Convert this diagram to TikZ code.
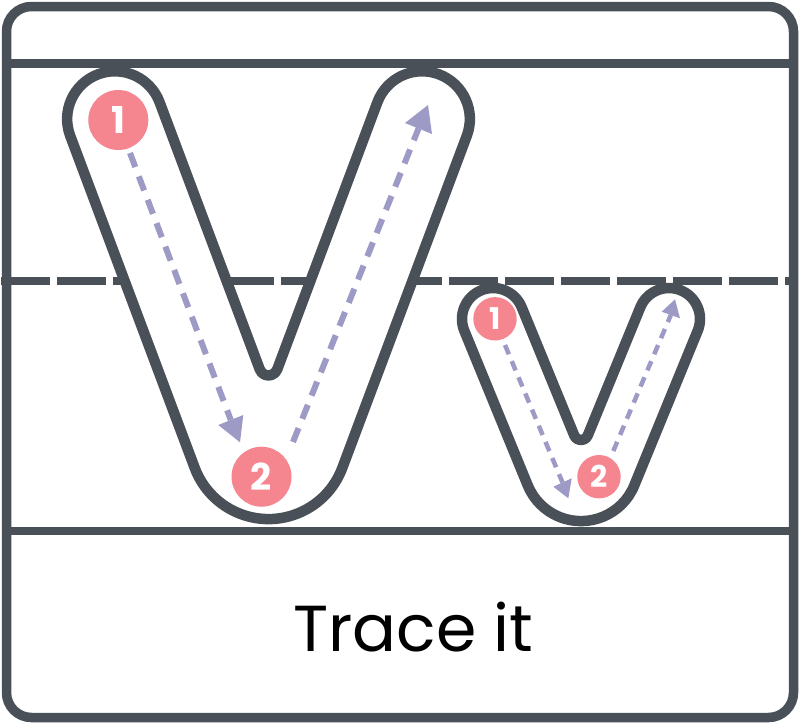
\documentclass[tikz,border=0pt]{standalone}
\usepackage{fontspec}
\setmainfont{Poppins}
\usetikzlibrary{calc}
\definecolor{ink}{HTML}{495057}
\definecolor{pinkc}{HTML}{F5858E}
\definecolor{trc}{HTML}{9D9BC5}
\begin{document}
\begin{tikzpicture}[x=1pt,y=-1pt,
  frameline/.style={draw=ink,line width=8.5pt},
  letter/.style={draw=ink,fill=white,line width=10.5pt,line join=round},
  bignum/.style={circle,fill=pinkc,minimum size=60pt,inner sep=0pt,text=white,font=\fontsize{37}{37}\selectfont\bfseries},
  smallnum/.style={circle,fill=pinkc,minimum size=43.4pt,inner sep=0pt,text=white,font=\fontsize{30}{30}\selectfont\bfseries},
  bigtrace/.style={draw=trc,line width=6pt,dash pattern=on 15pt off 10pt},
  smalltrace/.style={draw=trc,line width=4.5pt,dash pattern=on 10pt off 7.5pt},
  tiptri/.style={fill=trc}]
\useasboundingbox (0,0) rectangle (800,724);
% ruling lines
\draw[frameline] (7,63.5) -- (793,63.5);
\draw[frameline,dash pattern=on 49pt off 7pt] (1,281) -- (793,281);
\draw[frameline] (7,531) -- (793,531);
% frame
\draw[draw=ink,line width=9.5pt,rounded corners=25pt] (6.5,6.5) rectangle (793.5,717.5);
% big V
\draw[letter] (70.19,135.77) arc[start angle=200.56, end angle=20.56, radius=47.75pt]
  -- (259.79,369.45) arc[start angle=200.56, end angle=339.44, radius=9.3pt]
  -- (377.39,102.23) arc[start angle=159.44, end angle=-20.56, radius=47.75pt]
  -- (342.28,467.94) arc[start angle=-20.56, end angle=-159.44, radius=78.8pt]
  -- cycle;
% small v
\draw[letter] (464.32,330.76) arc[start angle=202.3, end angle=22.3, radius=31pt]
  -- (574.25,435.43) arc[start angle=202.3, end angle=337.7, radius=7.3pt]
  -- (640.32,307.24) arc[start angle=157.7, end angle=-22.3, radius=31pt]
  -- (634.3,485.35) arc[start angle=-22.3, end angle=-157.7, radius=57.6pt]
  -- cycle;
% traces, big V
\coordinate (bs1) at (130,153);
\coordinate (be1) at (230.8,420);
\coordinate (bs2) at (293,442);
\coordinate (be2) at (418.5,128.5);
\draw[bigtrace] (bs1) -- (be1);
\fill[tiptri] (240,442.3) -- (218.3,425) -- (243.3,415) -- cycle;
\draw[bigtrace] (bs2) -- (be2);
\fill[tiptri] (428,105) -- (405,123) -- (432,134) -- cycle;
% traces, small v
\coordinate (ss1) at (505,345);
\coordinate (se1) at (562.5,482.5);
\coordinate (ss2) at (613.3,451);
\coordinate (se2) at (670.8,315);
\draw[smalltrace] (ss1) -- (se1);
\fill[tiptri] (568.3,498.3) -- (553.3,486.7) -- (571.7,478.3) -- cycle;
\draw[smalltrace] (ss2) -- (se2);
\fill[tiptri] (675,299.3) -- (661.7,311.7) -- (680,318.3) -- cycle;
% numbered circles
\node[bignum] (b1) at (118.3,120) {1};
\node[bignum] (b2) at (261.5,476.7) {2};
\node[smallnum] (s1) at (495,318.8) {1};
\node[smallnum] (s2) at (599,476.7) {2};
% caption
\node[anchor=base,inner sep=0pt,font=\fontsize{65}{65}\selectfont] (cap) at (413.3,651.7) {Trace it};
\end{tikzpicture}
\end{document}
